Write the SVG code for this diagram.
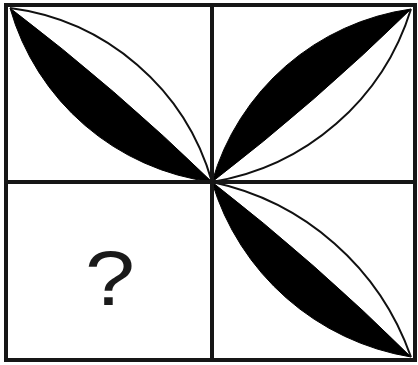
<svg xmlns="http://www.w3.org/2000/svg" width="418" height="365" viewBox="0 0 418 365">
  <style>
    .frame { fill: none; stroke: #161616; stroke-width: 4; }
    .grid { stroke: #161616; stroke-width: 4; }
    .leaf { fill: #000; stroke: #000; stroke-width: 1; stroke-linejoin: round; }
    .arc { fill: none; stroke: #111; stroke-width: 2; }
    .q { font-family: "Liberation Sans", Arial, sans-serif; font-size: 78px; fill: #1a1a1a; }
  </style>
  <rect x="0" y="0" width="418" height="365" fill="#fff"/>
  <g id="cell-top-left">
    <path class="leaf" d="M10,8 A242,242 0 0 0 212,182 A2200,2200 0 0 0 10,8 Z"/>
    <path class="arc" d="M10,8 A242,242 0 0 1 212,182"/>
  </g>
  <g id="cell-top-right">
    <path class="leaf" d="M212,182 A242,242 0 0 1 411,9 A2200,2200 0 0 1 212,182 Z"/>
    <path class="arc" d="M212,182 A250,250 0 0 0 411,9"/>
  </g>
  <g id="cell-bottom-right">
    <path class="leaf" d="M212,182 A250,250 0 0 0 411,357 A2200,2200 0 0 0 212,182 Z"/>
    <path class="arc" d="M212,182 A270,270 0 0 1 411,357"/>
  </g>
  <g id="cell-bottom-left">
    <text class="q" x="0" y="305" text-anchor="middle" transform="translate(110 0) scale(1.15 1)">?</text>
  </g>
  <g id="grid">
    <line class="grid" x1="212" y1="5" x2="212" y2="360"/>
    <line class="grid" x1="6" y1="182" x2="415" y2="182"/>
    <rect class="frame" x="6" y="5" width="409" height="355"/>
  </g>
</svg>
